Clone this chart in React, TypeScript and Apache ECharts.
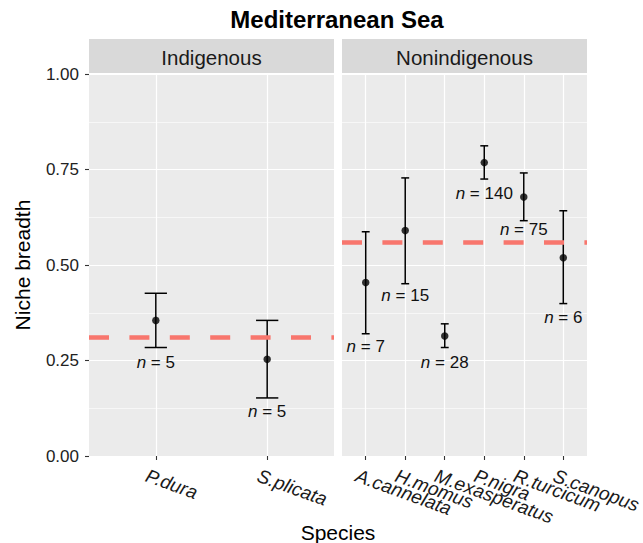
import React, { useEffect, useRef } from "react";
import * as echarts from "echarts";

// ---- Data ----
const indSpecies = ["P.dura", "S.plicata"];
const indMean = [0.355, 0.253];
const indLower = [0.284, 0.152];
const indUpper = [0.426, 0.355];
const indN = [5, 5];
const indLabelY = [0.245, 0.117];
const indRef = 0.308;

const nonSpecies = ["A.cannelata", "H.momus", "M.exasperatus", "P.nigra", "R.turcicum", "S.canopus"];
const nonMean = [0.454, 0.59, 0.314, 0.768, 0.678, 0.519];
const nonLower = [0.32, 0.451, 0.284, 0.725, 0.616, 0.399];
const nonUpper = [0.587, 0.728, 0.346, 0.812, 0.741, 0.642];
const nonN = [7, 15, 28, 140, 75, 6];
const nonLabelY = [0.287, 0.421, 0.245, 0.686, 0.592, 0.362];
const nonRef = 0.557;

const panelNames = ["Indigenous", "Nonindigenous"];
const yTickValues = [0, 0.25, 0.5, 0.75, 1];

const FONT = "'Liberation Sans', Arial, Helvetica, sans-serif";

const P1 = { left: 89, width: 245 };
const P2 = { left: 342, width: 245 };
const TOP = 74;
const HEIGHT = 382;

function buildPanelSeries(
  gi: number,
  species: string[],
  mean: number[],
  lower: number[],
  upper: number[],
  ns: number[],
  labelY: number[],
  ref: number
) {
  const idx = species.map((_, i) => i + 1);
  const errData = idx.map((x, i) => [x, mean[i], lower[i], upper[i]]);
  const pointData = idx.map((x, i) => [x, mean[i]]);
  const labData = idx.map((x, i) => [x, labelY[i], ns[i]]);
  const xlabData = idx.map((x) => [x, 0]);
  return [
    {
      type: "custom",
      xAxisIndex: gi,
      yAxisIndex: gi,
      data: errData,
      z: 2,
      renderItem: (params: any, api: any) => {
        const x = api.value(0);
        const lo = api.value(2);
        const hi = api.value(3);
        const pLo = api.coord([x, lo]);
        const pHi = api.coord([x, hi]);
        const l = api.coord([x - 0.1, hi])[0];
        const r = api.coord([x + 0.1, hi])[0];
        const st = { stroke: "#000", lineWidth: 1.5 };
        return {
          type: "group",
          children: [
            { type: "line", shape: { x1: pLo[0], y1: pLo[1], x2: pHi[0], y2: pHi[1] }, style: st },
            { type: "line", shape: { x1: l, y1: pHi[1], x2: r, y2: pHi[1] }, style: st },
            { type: "line", shape: { x1: l, y1: pLo[1], x2: r, y2: pLo[1] }, style: st },
          ],
        };
      },
    },
    {
      type: "scatter",
      xAxisIndex: gi,
      yAxisIndex: gi,
      data: pointData,
      symbol: "circle",
      symbolSize: 7.5,
      itemStyle: { color: "#000" },
      z: 3,
      markLine: {
        silent: true,
        symbol: ["none", "none"],
        label: { show: false },
        lineStyle: { color: "#F8766D", width: 4.5, type: [20, 20.4], cap: "butt" },
        data: [{ yAxis: ref }],
        z: 5,
      },
    },
    {
      type: "custom",
      xAxisIndex: gi,
      yAxisIndex: gi,
      data: labData,
      z: 4,
      renderItem: (params: any, api: any) => {
        const p = api.coord([api.value(0), api.value(1)]);
        return {
          type: "text",
          x: p[0],
          y: p[1],
          style: {
            text: "{i|n} = " + api.value(2),
            rich: {
              i: { fontStyle: "italic", fontSize: 17, fontFamily: FONT, fill: "#111" },
            },
            fontSize: 17,
            fontFamily: FONT,
            fill: "#111",
            align: "center",
            verticalAlign: "middle",
          },
        };
      },
    },
    {
      type: "custom",
      xAxisIndex: gi,
      yAxisIndex: gi,
      data: xlabData,
      clip: false,
      z: 4,
      renderItem: (params: any, api: any) => {
        const p = api.coord([api.value(0), api.value(1)]);
        return {
          type: "text",
          x: p[0] - 6,
          y: p[1] + 10,
          rotation: (-20 * Math.PI) / 180,
          style: {
            text: species[params.dataIndex],
            fontSize: 19,
            fontStyle: "italic",
            fontFamily: FONT,
            fill: "#1a1a1a",
            align: "left",
            verticalAlign: "top",
          },
        };
      },
    },
  ];
}

export default function App() {
  const ref = useRef<HTMLDivElement>(null);
  useEffect(() => {
    document.body.style.margin = "0";
    if (!ref.current) return;
    const chart = echarts.init(ref.current, undefined, { renderer: "svg" });
    const whiteMajor = { color: "#ffffff", width: 1.2 };
    const whiteMinor = { color: "#ffffff", width: 0.6 };
    const makeX = (gi: number, n: number) => ({
      type: "value",
      gridIndex: gi,
      min: 0.4,
      max: n + 0.6,
      axisLine: { show: false },
      axisTick: {
        show: true,
        length: 4,
        customValues: Array.from({ length: n }, (_, i) => i + 1),
        lineStyle: { color: "#333", width: 1.1 },
      },
      axisLabel: { show: false },
      splitLine: { show: true, lineStyle: whiteMajor },
    });
    const makeY = (gi: number, showLabels: boolean) => ({
      type: "value",
      gridIndex: gi,
      min: 0,
      max: 1,
      interval: 0.25,
      axisLine: { show: false },
      axisTick: { show: showLabels, length: 4, lineStyle: { color: "#333", width: 1.1 } },
      axisLabel: {
        show: showLabels,
        formatter: (v: number) => v.toFixed(2),
        fontSize: 17,
        color: "#222",
        fontFamily: FONT,
        margin: 10,
        customValues: yTickValues,
      },
      splitLine: { show: true, lineStyle: whiteMajor },
      minorTick: { show: false, splitNumber: 2 },
      minorSplitLine: { show: true, lineStyle: whiteMinor },
    });

    const option: any = {
      animation: false,
      backgroundColor: "#ffffff",
      textStyle: { fontFamily: FONT },
      grid: [
        { left: P1.left, top: TOP, width: P1.width, height: HEIGHT, show: true, backgroundColor: "#EBEBEB", borderWidth: 0 },
        { left: P2.left, top: TOP, width: P2.width, height: HEIGHT, show: true, backgroundColor: "#EBEBEB", borderWidth: 0 },
      ],
      xAxis: [makeX(0, indSpecies.length), makeX(1, nonSpecies.length)],
      yAxis: [makeY(0, true), makeY(1, false)],
      graphic: [
        { type: "rect", shape: { x: P1.left, y: 39, width: P1.width, height: 34 }, style: { fill: "#D9D9D9" } },
        { type: "rect", shape: { x: P2.left, y: 39, width: P2.width, height: 34 }, style: { fill: "#D9D9D9" } },
        {
          type: "text",
          x: P1.left + P1.width / 2,
          y: 57,
          style: { text: panelNames[0], fontSize: 20.5, fontFamily: FONT, fill: "#1a1a1a", align: "center", verticalAlign: "middle" },
        },
        {
          type: "text",
          x: P2.left + P2.width / 2,
          y: 57,
          style: { text: panelNames[1], fontSize: 20.5, fontFamily: FONT, fill: "#1a1a1a", align: "center", verticalAlign: "middle" },
        },
        {
          type: "text",
          x: 337,
          y: 19,
          style: { text: "Mediterranean Sea", fontSize: 24, fontWeight: "bold", fontFamily: FONT, fill: "#000", align: "center", verticalAlign: "middle" },
        },
        {
          type: "text",
          x: 338,
          y: 532,
          style: { text: "Species", fontSize: 21, fontFamily: FONT, fill: "#000", align: "center", verticalAlign: "middle" },
        },
        {
          type: "text",
          x: 22,
          y: 265,
          rotation: Math.PI / 2,
          style: { text: "Niche breadth", fontSize: 21, fontFamily: FONT, fill: "#000", align: "center", verticalAlign: "middle" },
        },
      ],
      series: [
        ...buildPanelSeries(0, indSpecies, indMean, indLower, indUpper, indN, indLabelY, indRef),
        ...buildPanelSeries(1, nonSpecies, nonMean, nonLower, nonUpper, nonN, nonLabelY, nonRef),
      ],
    };
    chart.setOption(option);
    return () => chart.dispose();
  }, []);
  return <div ref={ref} style={{ width: 643, height: 543 }} />;
}
